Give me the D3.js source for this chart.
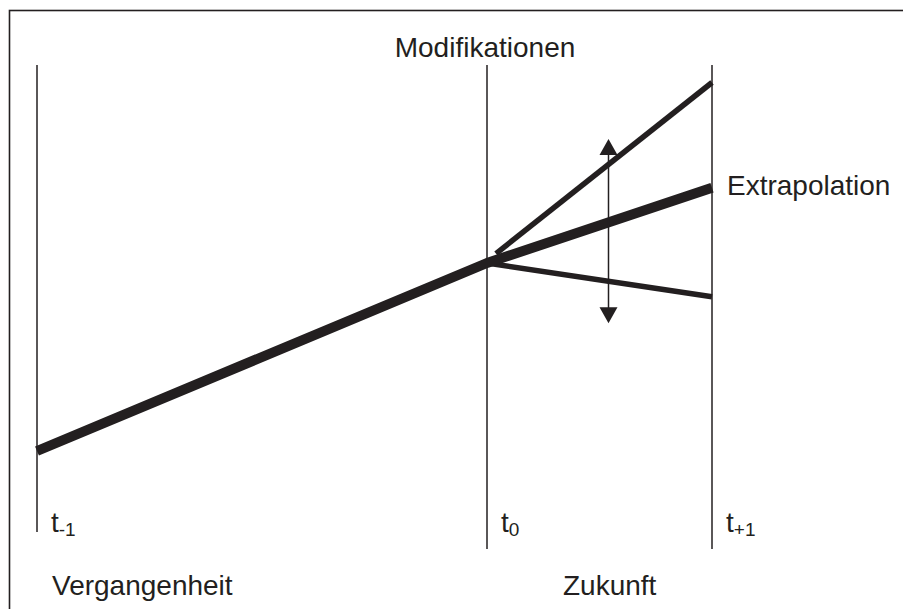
<!DOCTYPE html>
<html>
<head>
<meta charset="utf-8">
<script src="https://cdn.jsdelivr.net/npm/d3@7/dist/d3.min.js"></script>
<style>
	body { margin: 0; background: #fff; }
	text { font-family: "Liberation Sans", Arial, sans-serif; fill: #231f20; }
</style>
</head>
<body>
<div id="chart"></div>
<script>
	'use strict';

	// time points (t-1, t0, t+1) on a relative time axis
	var periods = [
		{name: 't', sub: '-1', time: 0},
		{name: 't', sub: '0', time: 10},
		{name: 't', sub: '+1', time: 15}
	];

	// past trend and its extrapolation
	var trend = [
		{time: 0, value: 0},
		{time: 10, value: 50},
		{time: 15, value: 70}
	];

	// modified forecasts
	var modUpper = [{time: 10.2, value: 52.5}, {time: 15, value: 98}];
	var modLower = [{time: 10, value: 50}, {time: 15, value: 41}];

	// range of modification (double arrow)
	var arrowTime = 12.7;
	var arrowRange = [34, 83];

	var width = 903;
	var height = 609;
	var ink = '#231f20';

	var x = d3.scaleLinear().domain([0, 15]).range([37, 712]);
	var y = d3.scaleLinear().domain([0, 100]).range([451, 75]);

	var svg = d3.select('#chart')
		.append('svg')
		.attr('width', width)
		.attr('height', height);

	// frame (right and bottom edges fall outside the picture)
	svg.append('rect')
		.attr('x', 9.5)
		.attr('y', 10.5)
		.attr('width', width + 20)
		.attr('height', height + 20)
		.attr('fill', 'none')
		.attr('stroke', ink)
		.attr('stroke-width', 1.6);

	// vertical time lines
	svg.selectAll('line.period')
		.data(periods)
		.enter()
		.append('line')
		.attr('class', 'period')
		.attr('x1', function (d) { return x(d.time); })
		.attr('x2', function (d) { return x(d.time); })
		.attr('y1', 65)
		.attr('y2', function (d, i) { return i === 0 ? 532 : 549; })
		.attr('stroke', ink)
		.attr('stroke-width', 1.5);

	var line = d3.line()
		.x(function (d) { return x(d.time); })
		.y(function (d) { return y(d.value); });

	svg.append('path')
		.datum(modUpper)
		.attr('d', line)
		.attr('fill', 'none')
		.attr('stroke', ink)
		.attr('stroke-width', 5.5);

	svg.append('path')
		.datum(modLower)
		.attr('d', line)
		.attr('fill', 'none')
		.attr('stroke', ink)
		.attr('stroke-width', 5.5);

	svg.append('path')
		.datum(trend)
		.attr('d', line)
		.attr('fill', 'none')
		.attr('stroke', ink)
		.attr('stroke-width', 10)
		.attr('stroke-linejoin', 'round');

	// double arrow
	var ax = x(arrowTime);
	var yTop = y(arrowRange[1]);
	var yBot = y(arrowRange[0]);
	var head = 16;
	var half = 9;

	svg.append('line')
		.attr('x1', ax).attr('x2', ax)
		.attr('y1', yTop + head - 2).attr('y2', yBot - head + 2)
		.attr('stroke', ink)
		.attr('stroke-width', 1.5);

	svg.append('path')
		.attr('d', 'M' + ax + ',' + yTop + 'L' + (ax + half) + ',' + (yTop + head) + 'L' + (ax - half) + ',' + (yTop + head) + 'Z')
		.attr('fill', ink);

	svg.append('path')
		.attr('d', 'M' + ax + ',' + yBot + 'L' + (ax + half) + ',' + (yBot - head) + 'L' + (ax - half) + ',' + (yBot - head) + 'Z')
		.attr('fill', ink);

	// period labels with subscripts
	var lbl = svg.selectAll('text.period')
		.data(periods)
		.enter()
		.append('text')
		.attr('class', 'period')
		.attr('x', function (d) { return x(d.time) + 14; })
		.attr('y', 532)
		.style('font-size', '28px');

	lbl.append('tspan').text(function (d) { return d.name; });
	lbl.append('tspan')
		.attr('dy', 4)
		.style('font-size', '19px')
		.text(function (d) { return d.sub; });

	svg.append('text')
		.text('Modifikationen')
		.attr('text-anchor', 'middle')
		.attr('x', x(10) - 2)
		.attr('y', 57)
		.style('font-size', '28px');

	svg.append('text')
		.text('Extrapolation')
		.attr('x', x(15) + 15)
		.attr('y', 195)
		.style('font-size', '28px');

	svg.append('text')
		.text('Vergangenheit')
		.attr('x', x(0) + 15)
		.attr('y', 595)
		.style('font-size', '28px');

	svg.append('text')
		.text('Zukunft')
		.attr('x', 563)
		.attr('y', 595)
		.style('font-size', '28px');
</script>
</body>
</html>
